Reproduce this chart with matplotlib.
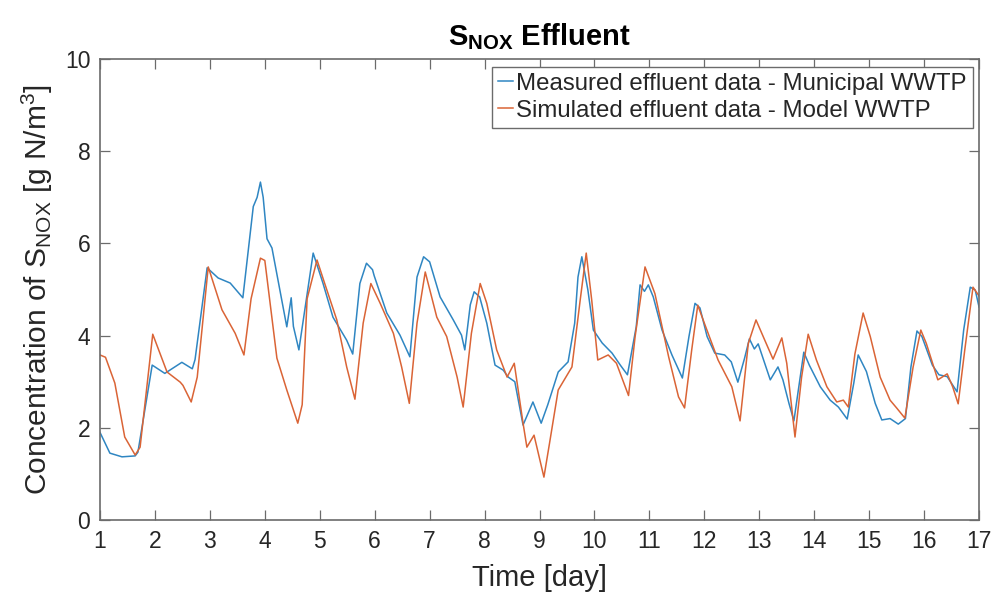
import matplotlib
matplotlib.use("Agg")
import matplotlib.pyplot as plt

plt.rcParams['font.family'] = ['Liberation Sans', 'DejaVu Sans']
plt.rcParams['mathtext.fontset'] = 'custom'
plt.rcParams['mathtext.rm'] = 'Liberation Sans'
plt.rcParams['mathtext.it'] = 'Liberation Sans'
plt.rcParams['mathtext.bf'] = 'Liberation Sans:bold'

# Measured effluent data - Municipal WWTP
meas_day = [1.0, 1.04, 1.18, 1.4, 1.64, 1.69, 1.95, 2.18, 2.49, 2.68, 2.73, 2.95, 3.15, 3.37, 3.6,
            3.79, 3.86, 3.92, 3.97, 4.04, 4.13, 4.4, 4.48, 4.52, 4.62, 4.88, 5.06, 5.24, 5.49, 5.6,
            5.73, 5.85, 5.96, 5.99, 6.22, 6.46, 6.64, 6.77, 6.89, 7.0, 7.19, 7.43, 7.58, 7.64, 7.74,
            7.81, 7.91, 8.04, 8.19, 8.34, 8.43, 8.55, 8.7, 8.88, 9.03, 9.15, 9.34, 9.52, 9.64, 9.7,
            9.77, 9.88, 9.98, 10.14, 10.32, 10.47, 10.6, 10.76, 10.83, 10.91, 10.98, 11.07, 11.23,
            11.41, 11.6, 11.72, 11.83, 11.92, 12.05, 12.19, 12.37, 12.49, 12.61, 12.73, 12.82, 12.91,
            12.98, 13.2, 13.34, 13.43, 13.54, 13.63, 13.81, 13.91, 14.11, 14.29, 14.44, 14.6, 14.72,
            14.8, 14.95, 15.11, 15.23, 15.38, 15.53, 15.66, 15.76, 15.87, 15.96, 16.15, 16.27, 16.42,
            16.6, 16.72, 16.84, 16.93, 17.0]
meas_val = [1.9, 1.8, 1.45, 1.37, 1.39, 1.47, 3.36, 3.18, 3.42, 3.28, 3.48, 5.47, 5.25, 5.14, 4.82,
            6.8, 7.0, 7.33, 7.0, 6.1, 5.9, 4.19, 4.82, 4.2, 3.69, 5.79, 5.13, 4.4, 3.9, 3.6,
            5.13, 5.57, 5.43, 5.3, 4.49, 4.01, 3.54, 5.27, 5.71, 5.6, 4.84, 4.34, 4.01, 3.69, 4.67,
            4.95, 4.84, 4.27, 3.36, 3.25, 3.1, 3.0, 2.06, 2.56, 2.1, 2.5, 3.21, 3.43, 4.27, 5.27,
            5.71, 4.99, 4.12, 3.84, 3.62, 3.36, 3.15, 4.19, 5.1, 4.96, 5.1, 4.84, 4.12,
            3.58, 3.08, 3.98, 4.7, 4.6, 3.98, 3.62, 3.58, 3.43, 2.99, 3.5, 3.93, 3.71,
            3.82, 3.04, 3.32, 3.04, 2.53, 2.15, 3.64, 3.36, 2.89, 2.6, 2.45, 2.19, 2.97,
            3.58, 3.22, 2.53, 2.17, 2.2, 2.08, 2.2, 3.32, 4.1, 3.98, 3.36, 3.15, 3.11,
            2.78, 4.12, 5.05, 4.99, 4.62]

# Simulated effluent data - Model WWTP
sim_day = [1.0, 1.1, 1.27, 1.45, 1.64, 1.73, 1.96, 2.09, 2.22, 2.46, 2.51, 2.66, 2.77, 2.97, 3.22,
           3.46, 3.62, 3.75, 3.92, 4.0, 4.22, 4.4, 4.6, 4.68, 4.77, 4.95, 5.09, 5.31, 5.49, 5.64,
           5.79, 5.93, 6.1, 6.34, 6.49, 6.63, 6.77, 6.92, 7.13, 7.31, 7.5, 7.61, 7.76, 7.92, 8.04,
           8.22, 8.41, 8.54, 8.7, 8.77, 8.9, 9.08, 9.18, 9.34, 9.59, 9.74, 9.85, 9.95, 10.06,
           10.25, 10.4, 10.62, 10.74, 10.92, 11.1, 11.35, 11.53, 11.64, 11.77, 11.88, 12.0, 12.25,
           12.5, 12.65, 12.8, 12.94, 13.1, 13.25, 13.41, 13.5, 13.65, 13.77, 13.89, 14.04, 14.23,
           14.41, 14.53, 14.62, 14.74, 14.89, 15.02, 15.2, 15.38, 15.5, 15.65, 15.8, 15.94, 16.04,
           16.25, 16.42, 16.52, 16.62, 16.74, 16.89, 17.0]
sim_val = [3.58, 3.53, 2.97, 1.8, 1.41, 1.58, 4.03, 3.62, 3.21, 2.99, 2.92, 2.56, 3.1, 5.49, 4.56,
           4.05, 3.58, 4.8, 5.68, 5.63, 3.51, 2.82, 2.1, 2.5, 4.8, 5.64, 5.13, 4.34, 3.32, 2.62,
           4.27, 5.13, 4.7, 4.05, 3.32, 2.53, 4.27, 5.38, 4.4, 3.98, 3.1, 2.45, 4.05, 5.13, 4.7,
           3.69, 3.1, 3.4, 2.1, 1.58, 1.84, 0.93, 1.65, 2.82, 3.32, 4.77, 5.79, 4.77, 3.47,
           3.58, 3.4, 2.7, 3.98, 5.49, 4.91, 3.54, 2.67, 2.43, 3.69, 4.66, 4.27, 3.47,
           2.89, 2.15, 3.83, 4.34, 3.9, 3.49, 3.95, 3.4, 1.8, 3.1, 4.03, 3.47, 2.89,
           2.56, 2.6, 2.45, 3.6, 4.49, 3.98, 3.1, 2.6, 2.43, 2.21, 3.32, 4.12, 3.83,
           3.04, 3.17, 2.89, 2.52, 3.69, 5.05, 4.86]

x_ticks = list(range(1, 18))
y_ticks = [0, 2, 4, 6, 8, 10]

fig = plt.figure(figsize=(9.97, 6.01), dpi=100)
ax = fig.add_axes([0.1003, 0.1348, 0.8817, 0.767])
ax.plot(meas_day, meas_val, color='#2F86C2', lw=1.1, label='Measured effluent data - Municipal WWTP')
ax.plot(sim_day, sim_val, color='#DA6436', lw=1.1, label='Simulated effluent data - Model WWTP')

ax.set_xlim(1, 17)
ax.set_ylim(0, 10)
ax.set_xticks(x_ticks)
ax.set_yticks(y_ticks)
spine_c = '#6b6b6b'
text_c = '#262626'
for s in ax.spines.values():
    s.set_color(spine_c)
    s.set_linewidth(1.2)
ax.tick_params(direction='in', top=True, right=True, length=7, width=0.9,
               labelsize=16.5, color=spine_c, labelcolor=text_c, pad=7)
ax.set_xlabel('Time [day]', fontsize=21, color=text_c, labelpad=8)
ax.set_ylabel(r'Concentration of S$_{\mathregular{NOX}}$ [g N/m$^{\mathregular{3}}$]',
              fontsize=21.5, color=text_c, labelpad=7)
ax.set_title(r'$\mathbf{S_{NOX}}$ Effluent', fontsize=21, fontweight='bold', color='black', pad=10)

leg = ax.legend(loc='upper right', bbox_to_anchor=(0.993, 0.983), fontsize=17.3,
                handlelength=0.6, handletextpad=0.15, borderpad=0.25, labelspacing=0.2,
                fancybox=False, framealpha=1, borderaxespad=0)
leg.get_frame().set_edgecolor(spine_c)
leg.get_frame().set_linewidth(1.0)
for t in leg.get_texts():
    t.set_color(text_c)

fig.savefig('out.png', dpi=100)
